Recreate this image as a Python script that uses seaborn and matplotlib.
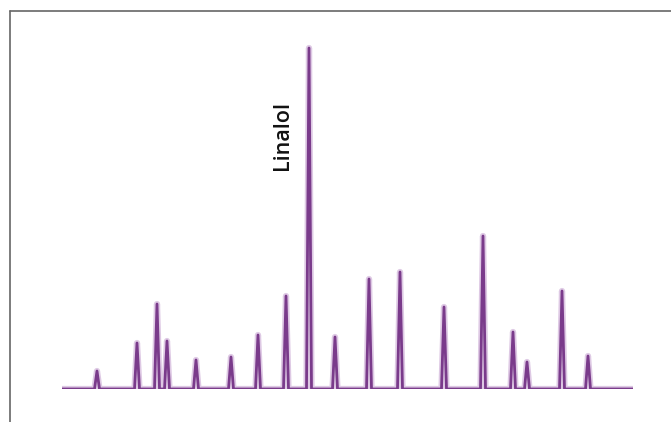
import numpy as np
import pandas as pd
import seaborn as sns
import matplotlib.pyplot as plt
from matplotlib.lines import Line2D

# peak retention positions (arbitrary units) and peak heights
peak_pos = [35, 75, 95, 105, 134, 169, 196, 224, 247, 273, 307, 338, 382, 421, 451, 465, 500, 526]
peak_height = [18, 46, 85, 48, 29, 32, 54, 93, 341, 52, 110, 117, 82, 153, 57, 27, 98, 33]
label_peak = "Linalol"
x_end = 571

# build the chromatogram trace from the peaks
half_w = 2.5
xs, ys = [0], [0]
for p, h in zip(peak_pos, peak_height):
    xs += [p - half_w, p, p + half_w]
    ys += [0, h, 0]
xs.append(x_end)
ys.append(0)
trace = pd.DataFrame({"time": xs, "signal": ys})

sns.set_style("white")
fig = plt.figure(figsize=(6.71, 4.22), dpi=100)
ax = fig.add_axes([62 / 671, 33 / 422, 571 / 671, 360 / 422])
ax.set_facecolor("#fcfcfc")

# soft halo then the main trace
ax.plot(xs, ys, color="#c9a6d3", linewidth=4.5, alpha=0.6, solid_joinstyle="round")
sns.lineplot(data=trace, x="time", y="signal", sort=False, estimator=None,
             color="#7a3b8b", linewidth=2.0, ax=ax)

ax.set_xlim(0, x_end)
ax.set_ylim(0, 360)
ax.set_axis_off()

# label for the largest peak
ax.text(220, 253, label_peak, rotation=90, ha="center", va="center",
        fontsize=15.5, fontfamily="Open Sans", fontweight="semibold", color="#111111")

# outer frame lines (top and left)
fig.add_artist(Line2D([10 / 671, 1], [1 - 11 / 422, 1 - 11 / 422], color="#666666", lw=1.2))
fig.add_artist(Line2D([10 / 671, 10 / 671], [0, 1 - 11 / 422], color="#666666", lw=1.2))

fig.savefig("out.png", dpi=100, facecolor="white")
